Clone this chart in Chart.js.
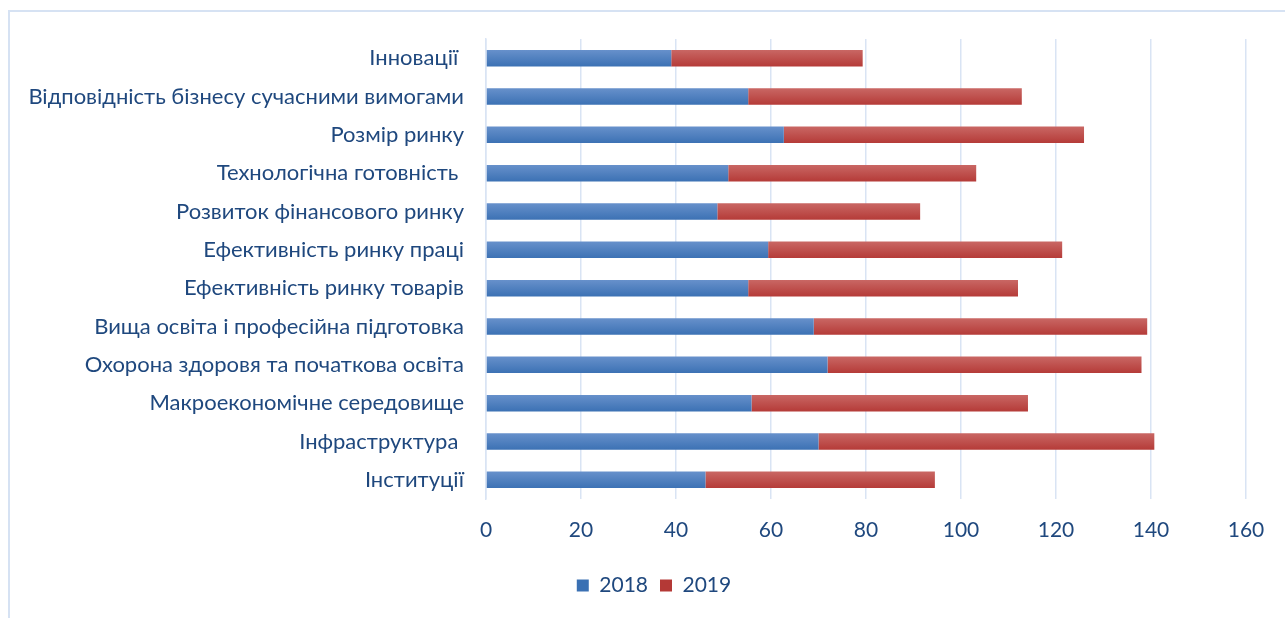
<!DOCTYPE html>
<html lang="uk">
<head>
<meta charset="utf-8">
<title>Chart</title>
<script src="https://cdn.jsdelivr.net/npm/chart.js@4/dist/chart.umd.min.js"></script>
<style>
    html, body {
        margin: 0;
        padding: 0;
        background: #ffffff;
        overflow: hidden;
    }
    .frame {
        position: absolute;
        left: 8px;
        top: 10px;
        width: 1300px;
        height: 640px;
        border: 2px solid #d6e2f3;
    }
    .chart-box {
        position: absolute;
        left: 0;
        top: 0;
        width: 1285px;
        height: 618px;
    }
</style>
</head>
<body>
<div class="frame"></div>
<div class="chart-box"><canvas id="factors-chart"></canvas></div>
<script>
    // Categories, top to bottom as drawn
    const categories = [
        'Інновації ',
        'Відповідність бізнесу сучасними вимогами',
        'Розмір ринку',
        'Технологічна готовність ',
        'Розвиток фінансового ринку',
        'Ефективність ринку праці',
        'Ефективність ринку товарів',
        'Вища освіта і професійна підготовка',
        'Охорона здоровя та початкова освіта',
        'Макроекономічне середовище',
        'Інфраструктура ',
        'Інституції'
    ];
    const values2018 = [39, 55.2, 62.7, 51, 48.7, 59.4, 55.2, 69, 71.9, 55.9, 70, 46.2];
    const values2019 = [40.3, 57.6, 63.2, 52.2, 42.7, 61.9, 56.8, 70.2, 66.1, 58.2, 70.7, 48.3];
    const xTicks = [0, 20, 40, 60, 80, 100, 120, 140, 160];

    const textColor = '#1f487e';
    const gridColor = '#d9e4f4';

    // vertical gradient for every bar, following the category scale
    function barFill(top, bottom, flat) {
        return function(ctx) {
            const chart = ctx.chart;
            const yScale = chart.scales.y;
            if (!yScale || typeof ctx.dataIndex !== 'number') {
                return flat;
            }
            const yc = yScale.getPixelForValue(ctx.dataIndex);
            if (!isFinite(yc)) {
                return flat;
            }
            const half = 9;
            const g = chart.ctx.createLinearGradient(0, yc - half, 0, yc + half);
            g.addColorStop(0, top);
            g.addColorStop(1, bottom);
            return g;
        };
    }

    // legend sits a little right of the canvas centre in the original
    const legendShift = {
        id: 'legendShift',
        afterLayout: function(chart) {
            if (chart.legend) {
                chart.legend.left += 23;
                chart.legend.right += 23;
            }
        }
    };

    const ctx = document.getElementById('factors-chart');
    new Chart(ctx, {
        type: 'bar',
        data: {
            labels: categories,
            datasets: [
                {
                    label: '2018',
                    data: values2018,
                    backgroundColor: barFill('#6992cc', '#3a70b3', '#4a7ebb'),
                    borderWidth: 0,
                    barPercentage: 0.43,
                    categoryPercentage: 1
                },
                {
                    label: '2019',
                    data: values2019,
                    backgroundColor: barFill('#ca6966', '#b43936', '#be4b48'),
                    borderWidth: 0,
                    barPercentage: 0.43,
                    categoryPercentage: 1
                }
            ]
        },
        options: {
            indexAxis: 'y',
            responsive: true,
            maintainAspectRatio: false,
            animation: false,
            layout: {
                padding: { left: 16, right: 39, top: 39, bottom: 12 }
            },
            scales: {
                x: {
                    stacked: true,
                    min: 0,
                    max: 160,
                    afterBuildTicks: function(axis) {
                        axis.ticks = xTicks.map(v => ({ value: v }));
                    },
                    afterFit: function(axis) {
                        axis.height = 64;
                    },
                    grid: {
                        color: gridColor,
                        lineWidth: 1.5,
                        drawTicks: false
                    },
                    border: { display: false },
                    ticks: {
                        color: textColor,
                        padding: 19,
                        font: { family: 'Lato', size: 21 }
                    }
                },
                y: {
                    stacked: true,
                    afterFit: function(axis) {
                        axis.width = 470;
                    },
                    grid: { display: false, drawTicks: false },
                    border: { display: true, color: gridColor, width: 1.5 },
                    ticks: {
                        color: textColor,
                        padding: 22,
                        autoSkip: false,
                        font: { family: 'Lato', size: 22 }
                    }
                }
            },
            plugins: {
                legend: {
                    position: 'bottom',
                    labels: {
                        color: textColor,
                        boxWidth: 12,
                        boxHeight: 12,
                        padding: 12,
                        font: { family: 'Lato', size: 21 }
                    }
                },
                tooltip: { enabled: false }
            }
        },
        plugins: [legendShift]
    });
</script>
</body>
</html>
